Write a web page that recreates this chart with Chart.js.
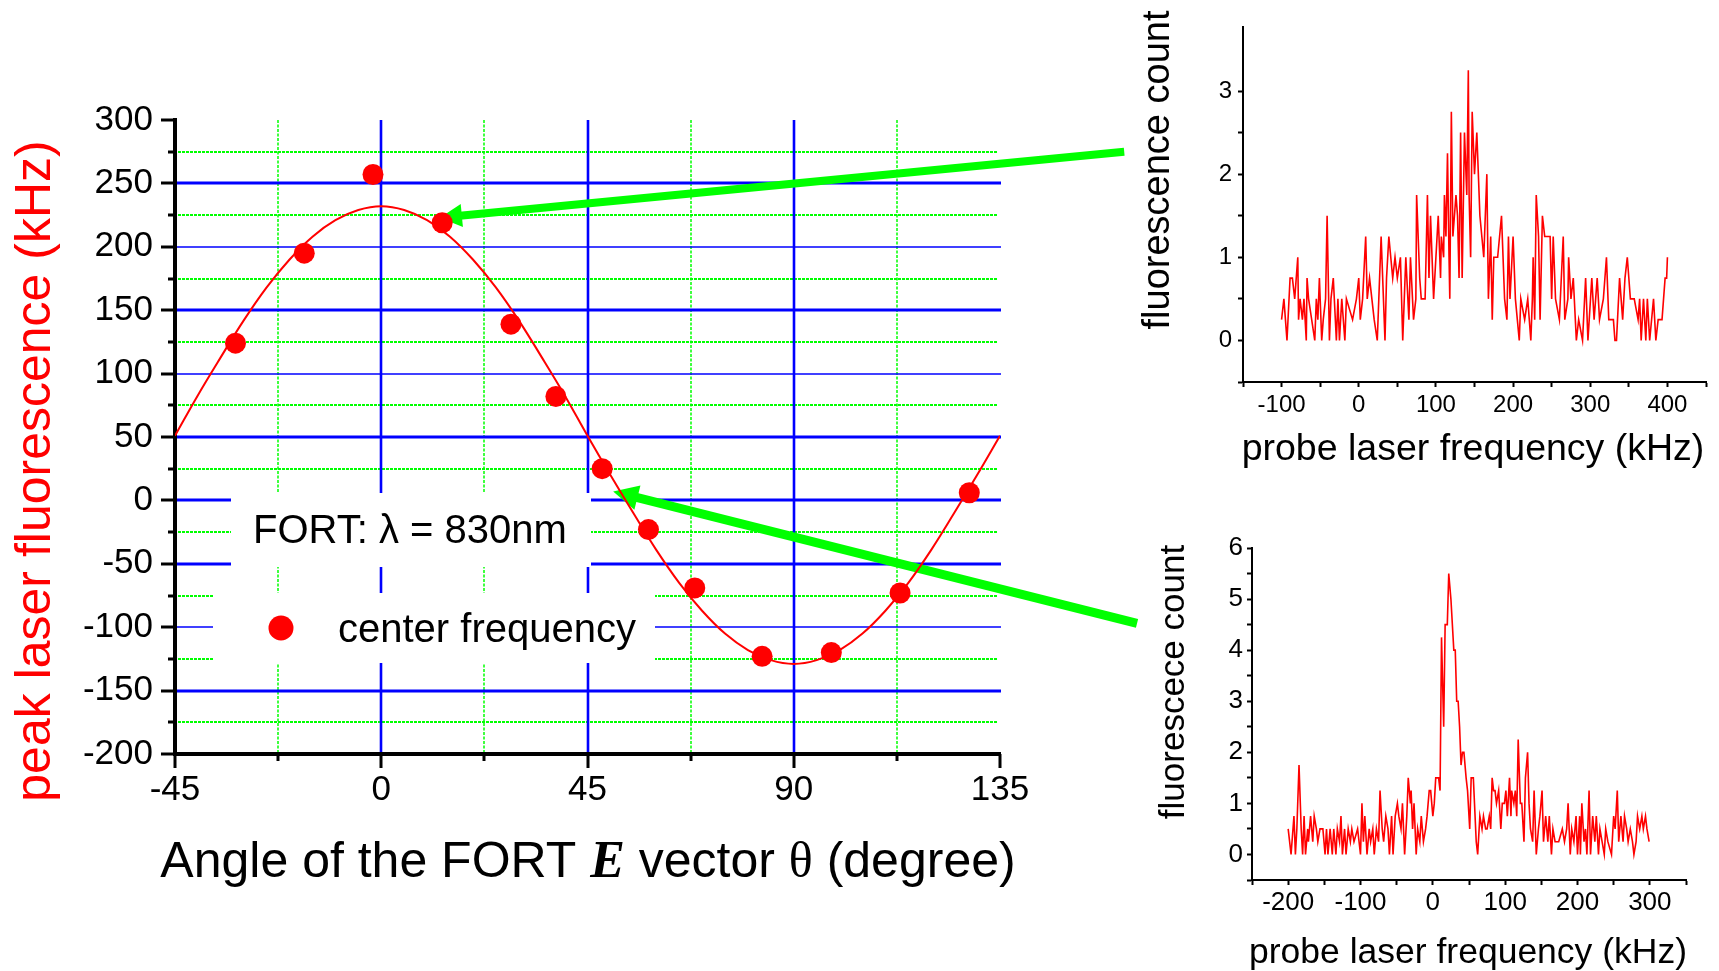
<!DOCTYPE html>
<html>
<head>
<meta charset="utf-8">
<script src="https://cdn.jsdelivr.net/npm/chart.js@4/dist/chart.umd.min.js"></script>
<style>
  html, body { margin: 0; padding: 0; background: #fff; }
  #wrap { position: relative; width: 1719px; height: 971px; overflow: hidden; background: #fff; }
  canvas { position: absolute; }
  #main { left: 0; top: 0; }
  #specA { left: 1120px; top: 0; }
  #specB { left: 1130px; top: 520px; }
</style>
</head>
<body>
<div id="wrap">
  <canvas id="main" width="1719" height="971"></canvas>
  <canvas id="specA" width="599" height="480"></canvas>
  <canvas id="specB" width="589" height="451"></canvas>
</div>
<script>
// ---- Center frequency of the peak fluorescence vs. FORT polarisation angle ----
const angleDeg   = [-31.8, -16.8, -1.8, 13.3, 28.3, 38.1, 48.2, 58.3, 68.4, 83.1, 98.2, 113.2, 128.3];
const centerFreq = [124, 195, 257, 219, 139, 82, 25, -23, -69, -123, -120, -73, 6];

// fitted curve, sampled every 5 degrees
const fitAngle = [-45, -40, -35, -30, -25, -20, -15, -10, -5, 0, 5, 10, 15, 20, 25, 30, 35, 40, 45,
                  50, 55, 60, 65, 70, 75, 80, 85, 90, 95, 100, 105, 110, 115, 120, 125, 130, 135];
const fitFreq  = [51, 83, 113, 142, 168, 190, 208, 221, 229, 232, 229, 221, 208, 190, 168, 142, 113, 83, 51,
                  20, -10, -39, -65, -87, -105, -118, -126, -129, -126, -118, -105, -87, -65, -39, -10, 20, 51];

const xTicksMain = [-45, 0, 45, 90, 135];
const yTicksMain = [-200, -150, -100, -50, 0, 50, 100, 150, 200, 250, 300];

// ---- probe spectrum at a broad resonance ----
const specAFreq = [-100,-97,-93,-89,-86,-83,-79,-78,-76,-73,-71,-68,-67,-65,-61,-57,-55,-53,-51,-48,-46,-43,-41,-38,-36,-33,-29,-27,-25,-22,-18,-16,-8,-3,0,2,5,9,11,14,17,20,24,26,29,34,36,39,44,47,50,54,57,59,61,65,67,71,74,75,79,81,86,89,91,93,97,103,106,107,110,111,113,115,117,118,120,122,126,128,130,132,134,137,140,142,143,145,147,150,153,157,162,166,168,171,173,175,180,185,189,192,194,196,200,203,208,210,215,219,223,225,226,228,230,233,235,238,241,248,250,252,255,260,265,267,271,272,275,278,282,285,290,294,297,302,305,309,312,317,321,324,330,332,334,338,342,345,348,352,357,362,364,366,369,372,374,377,382,385,388,393,397,399,400];
const specACount = [0.25,0.5,0,0.75,0.75,0.5,1,0.25,0.5,0.25,0.5,0,0.75,0.5,0.25,0,0.5,0.25,0.75,0,0.25,0.5,1.5,0,0.5,0.75,0,0.5,0,0.5,0,0.5,0.25,0.5,0.75,0.25,0.5,1.25,0.5,0.75,0.5,0.25,0,0.5,1.25,0,0.75,1.25,0.75,1,0.75,1,0,0.5,1,0.25,1,0.25,0.5,1.75,0.75,0.5,0.5,1.75,0.75,1.5,0.5,1.5,0.75,1.25,1,1.75,1.25,2.25,1,0.5,2.75,1.25,1.75,1.5,0.75,2.5,0.75,2.5,1.75,3.25,1.75,1,2.75,2,2.5,1.5,1,2,0.5,1.25,0.25,1,1,1.5,0.5,0.25,1.25,0.5,1.25,0.5,0,0.5,0.25,0.5,0,0.5,1,0.25,1.75,1.25,0.25,1.5,1.25,1.25,0.5,1.25,0.5,0.25,1.25,0.25,0.5,1,0.5,0.75,0,0.25,0,0.75,0,0.75,0.25,0.75,0.25,0.5,1,0.25,0.25,0,0,0.75,0.25,0.75,1,0.5,0.5,0.25,0.5,0,0.5,0,0.5,0,0.5,0,0.25,0.25,0.75,0.75,1];

// ---- probe spectrum at a narrow resonance ----
const specBFreq = [-200,-196,-192,-190,-188,-185,-182,-180,-178,-176,-173,-172,-169,-166,-164,-161,-159,-156,-152,-149,-147,-145,-142,-139,-137,-134,-132,-129,-127,-125,-122,-120,-117,-114,-112,-109,-104,-100,-98,-96,-94,-91,-88,-86,-83,-81,-78,-75,-73,-70,-68,-65,-62,-60,-57,-55,-52,-49,-47,-44,-42,-39,-36,-34,-31,-30,-28,-26,-23,-21,-18,-16,-13,-10,-8,-5,-3,0,2,4,8,10,12,15,17,20,22,25,29,31,33,35,37,39,41,43,46,48,51,53,56,60,62,65,68,70,73,75,78,80,82,84,86,88,91,94,96,99,101,103,106,108,109,112,114,116,118,121,123,126,128,131,133,135,138,140,143,146,148,151,153,156,159,161,164,166,169,174,179,182,185,187,190,192,195,198,200,203,204,206,209,211,213,216,218,221,224,226,229,231,234,237,239,242,247,250,252,255,257,260,263,265,268,270,273,276,278,281,283,286,289,291,294,296,299];
const specBCount = [0.5,0,0.75,0,0.5,1.75,0.5,0,0.75,0,0.5,0.25,0.75,0.25,0.75,0.5,0.25,0.5,0.5,0,0.5,0,0.5,0,0.5,0,0.5,0.25,0.75,0,0.5,0,0.5,0.25,0.5,0.25,0.5,0,1,0.25,0.75,0,0.5,0.25,0.5,0,0.5,0.25,1.25,0.5,0.25,0.75,0.5,0,0.75,0,0.75,1,0.75,0.5,1,0,0.75,1.5,1,1.25,0.5,1,0,0.5,0.25,0.75,0.25,0.5,0.75,1.25,1.25,0.75,1,1.5,1.5,1.25,4.25,2.5,4.5,4.5,5.5,5,4,4,3,3,2.5,1.75,2,2,1.5,1.25,0.5,1.5,1.5,0.25,0,0.75,0.5,0.75,0.5,0.5,0.75,0.5,1.5,1.25,1.25,1,1.25,0.5,1,1,1.25,0.75,1.5,0.75,1.25,1,1.25,0.75,2.25,1,1,0.25,1.5,2,1,0.5,0.25,1.25,0,0.5,0.75,1.25,0.25,0.75,0.25,0.75,0,0.5,0.25,0.25,0.5,0.25,0.5,1,0,0.5,0.25,0.75,0,0.75,0,1,0.25,0.5,0,1.25,0,0.75,0.25,0.75,0,0.5,0.25,0,0.5,0.25,0,0.75,0.5,1.25,0.25,0.75,0.25,0.75,0.5,0.25,0.5,0.25,0,0.25,0.75,0.5,0.75,0.5,0.75,0.5,0.25];

// ---- text ----
const mainYTitle = 'peak laser fluorescence (kHz)';
const mainXTitle = [
  { text: 'Angle of the FORT ', font: '50px "Liberation Sans"' },
  { text: 'E', font: 'italic bold 52px "Liberation Serif"' },
  { text: ' vector ', font: '50px "Liberation Sans"' },
  { text: '\u03B8', font: '50px "Liberation Serif"' },
  { text: ' (degree)', font: '50px "Liberation Sans"' }
];
const legendNote  = 'FORT: \u03BB = 830nm';
const legendLabel = 'center frequency';
const specXTitle  = 'probe laser frequency (kHz)';
const specAYTitle = 'fluorescence count';
const specBYTitle = 'fluorescece count';

const SANS = '"Liberation Sans", Arial, sans-serif';
const RED = '#ff0000', BLUE = '#0000ff', GREEN = '#00ff00';

// axis titles drawn in canvas space; the x title may mix fonts
function axisTitles(cfg) {
  return {
    id: 'axisTitles',
    afterDraw(chart) {
      const ctx = chart.ctx;
      ctx.save();
      ctx.textBaseline = 'alphabetic';
      ctx.fillStyle = cfg.xColor || '#000';
      const widths = cfg.xRuns.map(r => { ctx.font = r.font; return ctx.measureText(r.text).width; });
      const total = widths.reduce((a, b) => a + b, 0);
      let x = cfg.xCenter - total / 2;
      ctx.textAlign = 'left';
      cfg.xRuns.forEach((r, i) => { ctx.font = r.font; ctx.fillText(r.text, x, cfg.xBaseline); x += widths[i]; });
      ctx.translate(cfg.yBaseline, cfg.yCenter);
      ctx.rotate(-Math.PI / 2);
      ctx.font = cfg.yFont;
      ctx.fillStyle = cfg.yColor || '#000';
      ctx.textAlign = 'center';
      ctx.fillText(cfg.yText, 0, 0);
      ctx.restore();
    }
  };
}

function seg(ctx, x0, y0, x1, y1) {
  ctx.beginPath(); ctx.moveTo(x0, y0); ctx.lineTo(x1, y1); ctx.stroke();
}

function arrow(ctx, x0, y0, x1, y1, width, headLen, headHalf) {
  const L = Math.hypot(x1 - x0, y1 - y0), ux = (x1 - x0) / L, uy = (y1 - y0) / L;
  const bx = x1 - ux * headLen, by = y1 - uy * headLen;
  ctx.strokeStyle = GREEN; ctx.fillStyle = GREEN;
  ctx.lineWidth = width; ctx.lineCap = 'butt';
  seg(ctx, x0, y0, bx + ux * 2, by + uy * 2);
  ctx.beginPath();
  ctx.moveTo(x1, y1);
  ctx.lineTo(bx - uy * headHalf, by + ux * headHalf);
  ctx.lineTo(bx + uy * headHalf, by - ux * headHalf);
  ctx.closePath(); ctx.fill();
}

// grid, legend backdrop and pointer arrows under the data
const fortGrid = {
  id: 'fortGrid',
  beforeDatasetsDraw(chart) {
    const { ctx, chartArea: a, scales: { x, y } } = chart;
    ctx.save();
    ctx.lineCap = 'butt';
    // dotted minor rows and columns
    ctx.strokeStyle = GREEN;
    ctx.lineWidth = 2.2; ctx.setLineDash([3, 1]);
    for (let v = -175; v < 300; v += 50) { const p = Math.round(y.getPixelForValue(v)); seg(ctx, a.left + 3, p, a.right - 3, p); }
    ctx.lineWidth = 1.5; ctx.setLineDash([3, 1.5]);
    for (let v = -22.5; v < 135; v += 45) { const p = Math.round(x.getPixelForValue(v)); seg(ctx, p, a.top, p, a.bottom - 2); }
    // solid major rows and columns
    ctx.setLineDash([]);
    ctx.strokeStyle = BLUE;
    for (let v = -150; v <= 250; v += 50) {
      const p = Math.round(y.getPixelForValue(v));
      ctx.lineWidth = (v === 200 || v === 100 || v === -100) ? 1.6 : 2.8;
      seg(ctx, a.left + 2, p, a.right + 1, p);
    }
    ctx.lineWidth = 2.6;
    for (let v = 0; v < 135; v += 45) { const p = Math.round(x.getPixelForValue(v)); seg(ctx, p, a.top, p, a.bottom - 2); }
    // legend backdrop
    ctx.fillStyle = '#fff';
    ctx.fillRect(231, 493, 360, 74);
    ctx.fillRect(213, 593, 442, 70);
    // arrows from the two spectra to their data points
    arrow(ctx, x.getPixelForValue(162.1), y.getPixelForValue(275), x.getPixelForValue(12.8), y.getPixelForValue(223), 8, 22, 11.5);
    arrow(ctx, x.getPixelForValue(164.9), y.getPixelForValue(-97), x.getPixelForValue(50.6), y.getPixelForValue(7), 9, 25, 12.5);
    ctx.restore();
  },
  afterDraw(chart) {
    const { ctx, chartArea: a, scales: { x, y } } = chart;
    ctx.save();
    ctx.strokeStyle = '#000'; ctx.lineWidth = 3; ctx.lineCap = 'butt';
    for (let v = -200; v <= 300; v += 25) {
      const p = Math.round(y.getPixelForValue(v)), len = v % 50 === 0 ? 14 : 7;
      seg(ctx, a.left - len, p, a.left, p);
    }
    for (let v = -45; v <= 135; v += 22.5) {
      const p = Math.round(x.getPixelForValue(v)), len = v % 45 === 0 ? 14 : 7;
      seg(ctx, p, a.bottom, p, a.bottom + len);
    }
    // legend
    ctx.fillStyle = '#000';
    ctx.textAlign = 'left'; ctx.textBaseline = 'alphabetic';
    ctx.font = '40px ' + SANS;
    ctx.fillText(legendNote, 253, 543);
    ctx.fillText(legendLabel, 338, 642);
    ctx.fillStyle = RED;
    ctx.beginPath(); ctx.arc(281, 628, 12.5, 0, Math.PI * 2); ctx.fill();
    ctx.restore();
  }
};

new Chart(document.getElementById('main'), {
  type: 'scatter',
  data: {
    datasets: [
      {
        label: legendLabel,
        data: angleDeg.map((a, i) => ({ x: a, y: centerFreq[i] })),
        showLine: false,
        pointRadius: 10.5,
        pointBackgroundColor: RED,
        pointBorderWidth: 0,
        borderColor: RED
      },
      {
        type: 'line',
        label: 'fit',
        data: fitAngle.map((a, i) => ({ x: a, y: fitFreq[i] })),
        borderColor: RED,
        borderWidth: 2,
        pointRadius: 0,
        tension: 0.4,
        fill: false
      }
    ]
  },
  options: {
    responsive: false,
    animation: false,
    devicePixelRatio: 1,
    layout: { padding: { top: 120, right: 719, left: 0, bottom: 0 } },
    plugins: { legend: { display: false }, tooltip: { enabled: false } },
    scales: {
      x: {
        type: 'linear', min: xTicksMain[0], max: xTicksMain[xTicksMain.length - 1],
        afterFit(s) { s.height = 217; },
        afterBuildTicks(s) { s.ticks = xTicksMain.map(v => ({ value: v })); },
        ticks: { padding: 15, color: '#000', font: { family: SANS, size: 35 }, autoSkip: false, maxRotation: 0 },
        grid: { display: false, drawTicks: false },
        border: { display: true, color: '#000', width: 4 }
      },
      y: {
        type: 'linear', min: yTicksMain[0], max: yTicksMain[yTicksMain.length - 1],
        afterFit(s) { s.width = 175; },
        afterBuildTicks(s) { s.ticks = yTicksMain.map(v => ({ value: v })); },
        ticks: { padding: 22, color: '#000', font: { family: SANS, size: 35 }, autoSkip: false },
        grid: { display: false, drawTicks: false },
        border: { display: true, color: '#000', width: 4 }
      }
    }
  },
  plugins: [fortGrid, axisTitles({
    xRuns: mainXTitle, xCenter: 588, xBaseline: 877,
    yText: mainYTitle, yFont: '50px ' + SANS, yColor: RED, yBaseline: 50, yCenter: 471
  })]
});

function spectrum(id, freq, counts, o) {
  const tickFont = { family: SANS, size: o.tickSize };
  return new Chart(document.getElementById(id), {
    type: 'line',
    data: {
      datasets: [{
        data: freq.map((f, i) => ({ x: f, y: counts[i] })),
        borderColor: RED, borderWidth: 1.6, pointRadius: 0, tension: 0, fill: false
      }]
    },
    options: {
      responsive: false,
      animation: false,
      devicePixelRatio: 1,
      layout: { padding: o.padding },
      plugins: { legend: { display: false }, tooltip: { enabled: false } },
      scales: {
        x: {
          type: 'linear', min: o.xMin, max: o.xMax,
          afterFit(s) { s.height = o.xAxisH; },
          ticks: { stepSize: 50, padding: o.xPad, color: '#000', font: tickFont, autoSkip: false, maxRotation: 0,
                   callback: v => (v % 100 === 0 ? String(v) : '') },
          grid: { drawOnChartArea: false, drawTicks: true, tickLength: 5, tickWidth: 2, tickColor: '#000' },
          border: { display: true, color: '#000', width: 2 }
        },
        y: {
          type: 'linear', min: o.yMin, max: o.yMax,
          afterFit(s) { s.width = o.yAxisW; },
          afterBuildTicks(s) { s.ticks = s.ticks.filter(t => Math.abs(t.value * 2 - Math.round(t.value * 2)) < 1e-9); },
          ticks: { stepSize: 0.5, padding: o.yPad, color: '#000', font: tickFont, autoSkip: false,
                   callback: v => (Number.isInteger(v) ? String(v) : '') },
          grid: { drawOnChartArea: false, drawTicks: true, tickLength: 5, tickWidth: 2, tickColor: '#000' },
          border: { display: true, color: '#000', width: 2 }
        }
      }
    },
    plugins: [axisTitles(o.titles)]
  });
}

spectrum('specA', specAFreq, specACount, {
  padding: { top: 27, right: 13, left: 0, bottom: 0 },
  xMin: -150, xMax: 450, yMin: -0.5, yMax: 3.77,
  xAxisH: 98, yAxisW: 123, xPad: 4, yPad: 6, tickSize: 24,
  titles: {
    xRuns: [{ text: specXTitle, font: '37.5px ' + SANS }], xCenter: 353, xBaseline: 460,
    yText: specAYTitle, yFont: '38px ' + SANS, yBaseline: 49, yCenter: 170
  }
});

spectrum('specB', specBFreq, specBCount, {
  padding: { top: 28, right: 33, left: 0, bottom: 0 },
  xMin: -250, xMax: 350, yMin: -0.5, yMax: 6,
  xAxisH: 91, yAxisW: 122, xPad: 2, yPad: 4, tickSize: 26,
  titles: {
    xRuns: [{ text: specXTitle, font: '35.5px ' + SANS }], xCenter: 338, xBaseline: 443,
    yText: specBYTitle, yFont: '35px ' + SANS, yBaseline: 54, yCenter: 162
  }
});
</script>
</body>
</html>
